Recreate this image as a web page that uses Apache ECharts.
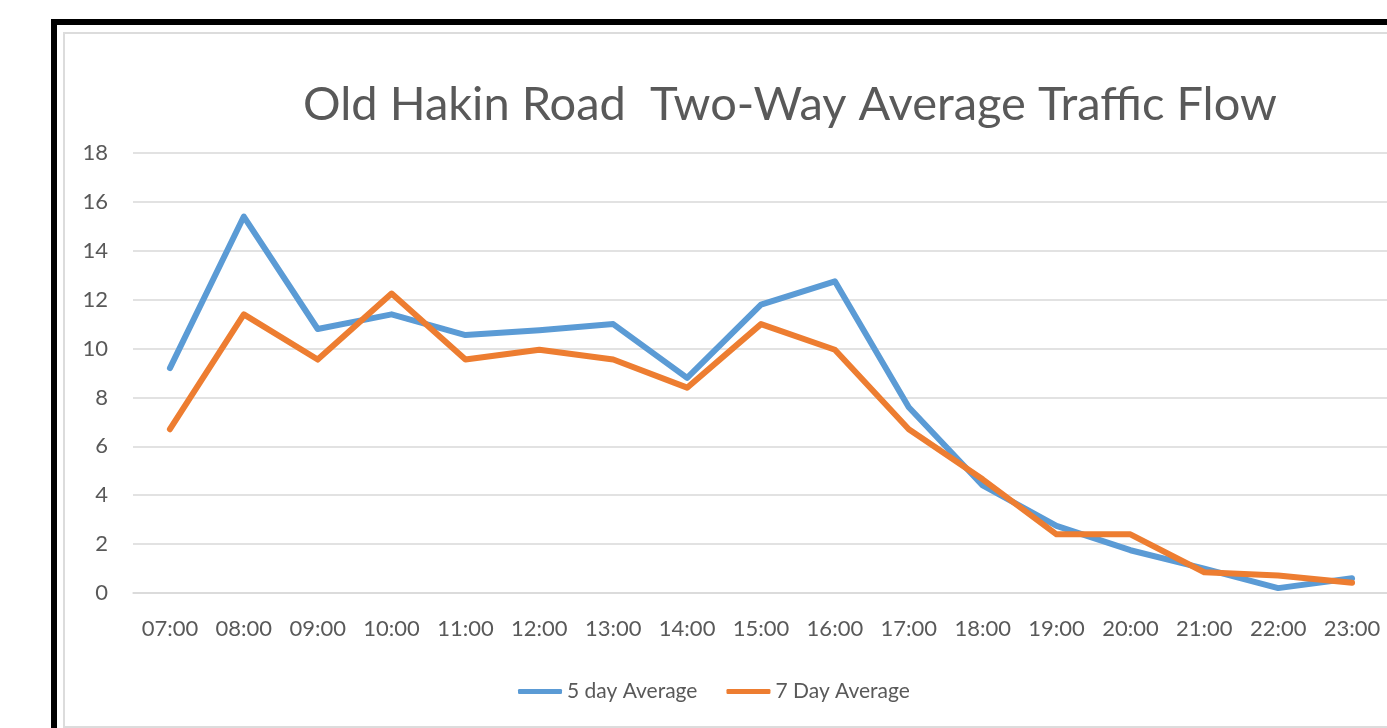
<!DOCTYPE html>
<html>
<head>
<meta charset="utf-8">
<title>Old Hakin Road Two-Way Average Traffic Flow</title>
<script src="https://cdn.jsdelivr.net/npm/echarts@6/dist/echarts.min.js"></script>
<style>
  html, body { margin: 0; padding: 0; background: #fff; overflow: hidden; }
  .frame {
    position: absolute; left: 51px; top: 19px; width: 1400px; height: 800px;
    border-left: 6px solid #000; border-top: 6px solid #000;
  }
  .panel {
    position: absolute; left: 63px; top: 32px; width: 1400px; height: 692px;
    border: 2px solid #dcdcdc;
  }
  #chart { position: absolute; left: 0; top: 0; width: 1400px; height: 728px; }
</style>
</head>
<body>
<div class="frame"></div>
<div class="panel"></div>
<div id="chart"></div>
<script>
const hours = ["07:00", "08:00", "09:00", "10:00", "11:00", "12:00", "13:00", "14:00",
  "15:00", "16:00", "17:00", "18:00", "19:00", "20:00", "21:00", "22:00", "23:00"];
const fiveDayAvg = [9.2, 15.4, 10.8, 11.4, 10.55, 10.75, 11.0, 8.8,
  11.8, 12.75, 7.6, 4.4, 2.75, 1.75, 1.0, 0.2, 0.6];
const sevenDayAvg = [6.7, 11.4, 9.55, 12.25, 9.55, 9.95, 9.55, 8.4,
  11.0, 9.95, 6.7, 4.65, 2.4, 2.4, 0.85, 0.72, 0.42];
const yTicks = { min: 0, max: 18, interval: 2 };

const textColor = "#595959";
const font = "Lato, 'Open Sans', sans-serif";

let myChart = echarts.init(document.getElementById("chart"));
let option = {
  animation: false,
  textStyle: { fontFamily: font },
  title: {
    text: "Old Hakin Road  Two-Way Average Traffic Flow",
    left: 785,
    top: 76,
    textAlign: "center",
    textStyle: { color: textColor, fontSize: 47, fontWeight: "normal", fontFamily: font }
  },
  legend: {
    left: 513,
    top: 676,
    icon: "roundRect",
    itemWidth: 44,
    itemHeight: 5,
    itemGap: 29,
    textStyle: { color: textColor, fontSize: 21, fontFamily: font }
  },
  grid: { left: 133, right: 11, top: 153, bottom: 135 },
  xAxis: {
    type: "category",
    data: hours,
    boundaryGap: true,
    axisTick: { show: false },
    axisLine: { show: true, lineStyle: { color: "#d9d9d9", width: 1.5 } },
    axisLabel: { color: textColor, fontSize: 22, margin: 25, interval: 0, hideOverlap: false, fontFamily: font }
  },
  yAxis: {
    type: "value",
    min: yTicks.min,
    max: yTicks.max,
    interval: yTicks.interval,
    axisLine: { show: false },
    axisTick: { show: false },
    splitLine: { lineStyle: { color: "#d9d9d9", width: 1.5 } },
    axisLabel: { color: textColor, fontSize: 22, margin: 25, fontFamily: font }
  },
  series: [
    {
      name: "5 day Average",
      type: "line",
      data: fiveDayAvg,
      symbol: "none",
      itemStyle: { color: "#5b9bd5" },
      lineStyle: { color: "#5b9bd5", width: 6, cap: "round", join: "round" }
    },
    {
      name: "7 Day Average",
      type: "line",
      data: sevenDayAvg,
      symbol: "none",
      itemStyle: { color: "#ed7d31" },
      lineStyle: { color: "#ed7d31", width: 6, cap: "round", join: "round" }
    }
  ]
};
myChart.setOption(option);
</script>
</body>
</html>
